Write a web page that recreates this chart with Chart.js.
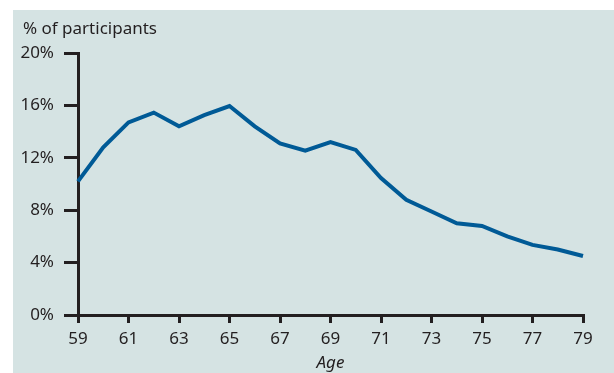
<!DOCTYPE html>
<html>
<head>
<meta charset="utf-8">
<script src="https://cdn.jsdelivr.net/npm/chart.js@4"></script>
<style>
    html, body { margin: 0; padding: 0; background: #fff; }
    .panel { position: absolute; left: 13px; top: 10px; width: 601px; height: 363px; background: #d5e3e3; }
    canvas { display: block; }
</style>
</head>
<body>
<div class="panel"><canvas id="ageChart" width="601" height="363"></canvas></div>
<script>
const ages = ['59','60','61','62','63','64','65','66','67','68','69','70','71','72','73','74','75','76','77','78','79'];
const participants = [10.2, 12.8, 14.7, 15.45, 14.4, 15.25, 15.95, 14.4, 13.1, 12.55, 13.2, 12.6, 10.45, 8.8, 7.9, 7.0, 6.8, 6.0, 5.35, 5.0, 4.5];
const yTicks = [0, 4, 8, 12, 16, 20];

const ink = '#231f20';
const labelFont = { family: '"Noto Sans", sans-serif', size: 17 };

// unit label above the value axis
const unitLabel = {
    id: 'unitLabel',
    afterDraw(chart) {
        const { ctx, chartArea } = chart;
        ctx.save();
        ctx.font = '17px "Noto Sans", sans-serif';
        ctx.fillStyle = ink;
        ctx.textBaseline = 'middle';
        ctx.fillText('% of participants', chartArea.left - 55, chartArea.top - 24);
        ctx.restore();
    }
};

new Chart(document.getElementById('ageChart'), {
    type: 'line',
    data: {
        labels: ages,
        datasets: [{
            data: participants,
            borderColor: '#005a96',
            borderWidth: 4,
            pointRadius: 0,
            tension: 0,
            borderJoinStyle: 'miter'
        }]
    },
    options: {
        responsive: false,
        animation: false,
        layout: { padding: { top: 43, right: 31, bottom: 0, left: 0 } },
        plugins: { legend: { display: false }, tooltip: { enabled: false } },
        scales: {
            x: {
                offset: false,
                border: { color: ink, width: 3 },
                grid: { drawOnChartArea: false, color: ink, lineWidth: 3, tickLength: 8 },
                ticks: {
                    color: ink, font: labelFont, padding: 6, maxRotation: 0, autoSkip: false,
                    callback: (v, i) => i % 2 === 0 ? ages[i] : null
                },
                title: {
                    display: true, text: 'Age', color: ink,
                    font: { family: '"Noto Sans", sans-serif', size: 17, style: 'italic' },
                    padding: { top: 0, bottom: 0 }
                },
                afterFit(scale) { scale.height = 58; }
            },
            y: {
                min: 0, max: 20,
                border: { color: ink, width: 3 },
                grid: { drawOnChartArea: false, color: ink, lineWidth: 3, tickLength: 14 },
                afterBuildTicks(scale) { scale.ticks = yTicks.map(v => ({ value: v })); },
                ticks: { color: ink, font: labelFont, padding: 10, callback: v => v + '%' },
                afterFit(scale) { scale.width = 65; }
            }
        }
    },
    plugins: [unitLabel]
});
</script>
</body>
</html>
